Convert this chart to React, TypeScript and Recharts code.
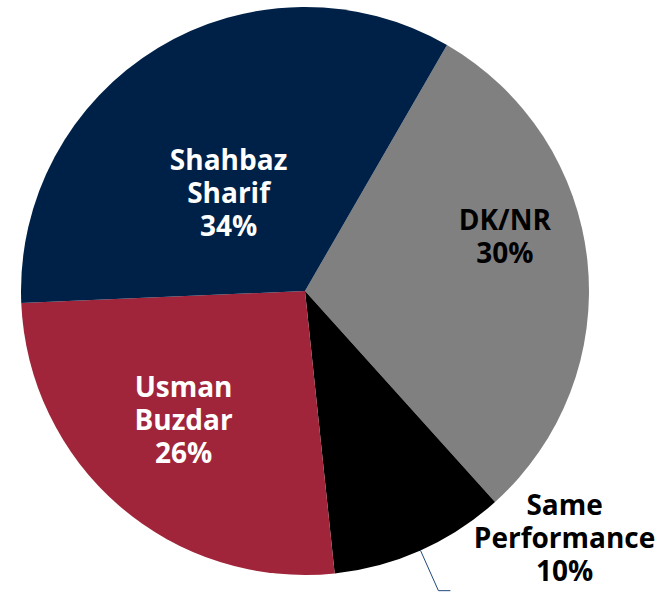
import { PieChart, Pie, Cell } from "recharts";

const names = ["DK/NR", "Same Performance", "Usman Buzdar", "Shahbaz Sharif"];
const shares = [30, 10, 26, 34];
const colors = ["#808080", "#000000", "#A0253A", "#002147"];
const textColors = ["#000000", "#000000", "#FFFFFF", "#FFFFFF"];

// label placement tweaks: fraction of radius + angle shift from the slice middle
const labelRadius = [0.73, 1.26, 0.62, 0.44];
const labelShift = [9.4, 22.5, -2.8, 6.5];

const data = names.map((name, i) => ({ name, value: shares[i] }));

const RADIAN = Math.PI / 180;
const LINE_H = 33;

function renderLabel(props: any) {
  const { cx, cy, midAngle, outerRadius, index } = props;
  const a = (midAngle + labelShift[index]) * RADIAN;
  const r = outerRadius * labelRadius[index];
  const x = cx + r * Math.cos(a);
  const y = cy - r * Math.sin(a);
  const lines = [...names[index].split(" "), `${shares[index]}%`];
  const top = y - ((lines.length - 1) * LINE_H) / 2;

  let leader = null;
  if (labelRadius[index] > 1) {
    const m = midAngle * RADIAN;
    const x1 = cx + outerRadius * Math.cos(m);
    const y1 = cy - outerRadius * Math.sin(m);
    const x2 = cx + outerRadius * 1.155 * Math.cos(m);
    const y2 = cy - outerRadius * 1.155 * Math.sin(m);
    leader = (
      <polyline
        points={`${x1},${y1} ${x2},${y2} ${x2 + 12},${y2}`}
        fill="none"
        stroke="#1F497D"
        strokeWidth={1}
      />
    );
  }

  return (
    <g key={`lbl-${index}`}>
      {leader}
      <text
        x={x}
        y={top}
        textAnchor="middle"
        dominantBaseline="central"
        fill={textColors[index]}
        fontFamily="'Open Sans', sans-serif"
        fontWeight={700}
        fontSize={28}
      >
        {lines.map((t, i) => (
          <tspan key={i} x={x} dy={i === 0 ? 0 : LINE_H}>
            {t}
          </tspan>
        ))}
      </text>
    </g>
  );
}

export default function App() {
  return (
    <div style={{ position: "absolute", left: 0, top: 0, background: "#fff" }}>
      <PieChart width={669} height={594}>
        <Pie
          data={data}
          dataKey="value"
          nameKey="name"
          cx={300}
          cy={286}
          outerRadius={284}
          startAngle={60}
          endAngle={-300}
          stroke="none"
          label={renderLabel}
          labelLine={false}
          isAnimationActive={false}
        >
          {data.map((d, i) => (
            <Cell key={d.name} fill={colors[i]} />
          ))}
        </Pie>
      </PieChart>
    </div>
  );
}
